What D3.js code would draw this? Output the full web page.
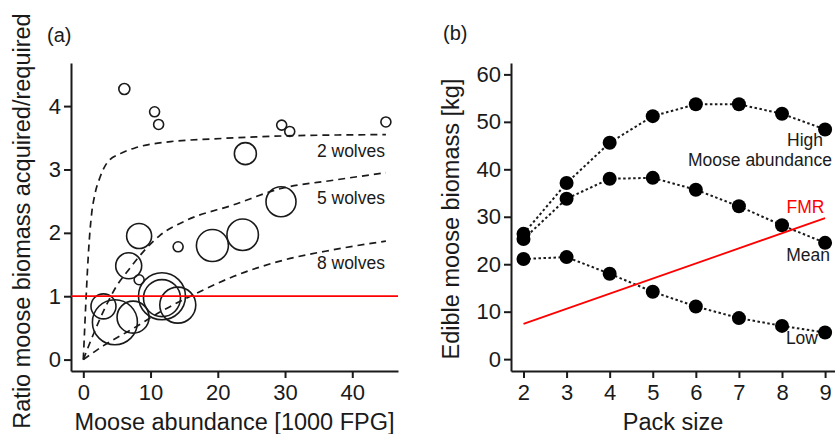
<!DOCTYPE html>
<html>
<head>
<meta charset="utf-8">
<script src="https://cdn.jsdelivr.net/npm/d3@7"></script>
<style>
body { margin: 0; background: #fff; }
text { font-family: "Liberation Sans", Arial, sans-serif; fill: #1a1a1a; }
</style>
</head>
<body>
<script>
// ---- panel (a) data ----
const mooseAbundance = [6.1, 10.6, 11.2, 29.5, 30.7, 45.0, 24.1, 29.4, 8.3, 14.1, 19.2, 23.7, 6.75, 8.3, 3.0, 4.7, 7.4, 11.7, 11.7, 14.05];
const biomassRatio   = [4.27, 3.91, 3.71, 3.70, 3.60, 3.75, 3.25, 2.49, 1.95, 1.78, 1.80, 1.97, 1.48, 1.26, 0.84, 0.59, 0.67, 1.00, 0.97, 0.86];
const wolvesInPack   = [2.2, 2, 2, 2, 2, 2, 4.4, 6, 5, 2, 6.4, 6.3, 5.2, 2, 5, 9, 6.4, 9.4, 7.4, 7.2];

const wolves2X = [0, 1, 1.25, 1.75, 2.5, 3.5, 5.5, 8, 13, 19, 30, 45];
const wolves2Y = [0, 2.04, 2.31, 2.62, 2.88, 3.10, 3.25, 3.35, 3.44, 3.48, 3.53, 3.55];
const wolves5X = [0, 1.5, 3.2, 5, 6.7, 8.9, 11.4, 15.4, 22.3, 29.4, 37.2, 45];
const wolves5Y = [0, 0.4, 0.81, 1.17, 1.41, 1.70, 1.96, 2.20, 2.44, 2.70, 2.83, 2.95];
const wolves8X = [0, 3, 7.4, 11.4, 16.9, 22.3, 29.8, 37, 45];
const wolves8Y = [0, 0.22, 0.49, 0.75, 1.05, 1.31, 1.57, 1.73, 1.87];
const curveLabels = ["2 wolves", "5 wolves", "8 wolves"];

const ticksAx = [0, 10, 20, 30, 40];
const ticksAy = [0, 1, 2, 3, 4];

// ---- panel (b) data ----
const packSizes   = [2, 3, 4, 5, 6, 7, 8, 9];
const highBiomass = [26.4, 37.1, 45.6, 51.2, 53.7, 53.7, 51.7, 48.4];
const meanBiomass = [25.3, 33.8, 38.0, 38.2, 35.7, 32.2, 28.2, 24.5];
const lowBiomass  = [21.1, 21.5, 18.0, 14.2, 11.1, 8.65, 7.0, 5.6];
const fmrPack     = [2, 9];
const fmrBiomass  = [7.45, 29.7];
const ticksBy = [0, 10, 20, 30, 40, 50, 60];

const ink = "#1a1a1a";

const svg = d3.select("body").append("svg")
    .attr("width", 835)
    .attr("height", 434);

function styleAxis(g) {
    g.select(".domain").attr("stroke", ink).attr("stroke-width", 2);
    g.selectAll(".tick line").attr("stroke", ink).attr("stroke-width", 2);
    g.selectAll(".tick text").style("font-size", "22px");
}

// ================= panel (a) =================
const xA = d3.scaleLinear().domain([-1.83, 46.8]).range([71, 398]);
const yA = d3.scaleLinear().domain([-0.18, 4.68]).range([371, 63]);
const rA = d3.scaleLinear().domain([0, 10]).range([0, 25]);

svg.append("g")
    .attr("transform", "translate(0,371)")
    .call(d3.axisBottom(xA).tickValues(ticksAx).tickFormat(d3.format("d"))
        .tickSize(7).tickSizeOuter(0).tickPadding(6))
    .call(styleAxis);

svg.append("g")
    .attr("transform", "translate(71,0)")
    .call(d3.axisLeft(yA).tickValues(ticksAy).tickFormat(d3.format("d"))
        .tickSize(7).tickSizeOuter(0).tickPadding(3))
    .call(styleAxis);

const lineA = d3.line()
    .x(d => xA(d[0]))
    .y(d => yA(d[1]))
    .curve(d3.curveMonotoneX);

[[wolves2X, wolves2Y], [wolves5X, wolves5Y], [wolves8X, wolves8Y]].forEach(([xs, ys]) => {
    svg.append("path")
        .datum(xs.map((x, i) => [x, ys[i]]))
        .attr("d", lineA)
        .attr("fill", "none")
        .attr("stroke", ink)
        .attr("stroke-width", 1.7)
        .attr("stroke-dasharray", "7,5");
});

svg.selectAll(".bubble")
    .data(mooseAbundance.map((x, i) => ({x: x, y: biomassRatio[i], n: wolvesInPack[i]})))
    .join("circle")
    .attr("class", "bubble")
    .attr("cx", d => xA(d.x))
    .attr("cy", d => yA(d.y))
    .attr("r", d => rA(d.n))
    .attr("fill", "none")
    .attr("stroke", ink)
    .attr("stroke-width", 1.6);

// required level
svg.append("line")
    .attr("x1", xA.range()[0]).attr("x2", xA.range()[1])
    .attr("y1", yA(1)).attr("y2", yA(1))
    .attr("stroke", "#ff0000")
    .attr("stroke-width", 1.8);

const curveLabelY = [157, 204, 269];
svg.selectAll(".curve-label")
    .data(curveLabels)
    .join("text")
    .attr("class", "curve-label")
    .attr("x", 385)
    .attr("y", (d, i) => curveLabelY[i])
    .attr("text-anchor", "end")
    .style("font-size", "17.5px")
    .text(d => d);

svg.append("text").attr("x", 47).attr("y", 42).style("font-size", "20px").text("(a)");

svg.append("text")
    .attr("x", (xA.range()[0] + xA.range()[1]) / 2)
    .attr("y", 430)
    .attr("text-anchor", "middle")
    .style("font-size", "23.5px")
    .text("Moose abundance [1000 FPG]");

svg.append("text")
    .attr("transform", "translate(30,221)rotate(-90)")
    .attr("text-anchor", "middle")
    .style("font-size", "23.5px")
    .text("Ratio moose biomass acquired/required");

// ================= panel (b) =================
const xB = d3.scaleLinear().domain([1.71, 9.23]).range([511, 835]);
const yB = d3.scaleLinear().domain([-2.5, 62.4]).range([371, 63]);

svg.append("g")
    .attr("transform", "translate(0,371)")
    .call(d3.axisBottom(xB).tickValues(packSizes).tickFormat(d3.format("d"))
        .tickSize(7).tickSizeOuter(0).tickPadding(6))
    .call(styleAxis);

svg.append("g")
    .attr("transform", "translate(511,0)")
    .call(d3.axisLeft(yB).tickValues(ticksBy).tickFormat(d3.format("d"))
        .tickSize(7).tickSizeOuter(0).tickPadding(3))
    .call(styleAxis);

const lineB = d3.line()
    .x((d, i) => xB(packSizes[i]))
    .y(d => yB(d));

[highBiomass, meanBiomass, lowBiomass].forEach(series => {
    svg.append("path")
        .datum(series)
        .attr("d", lineB)
        .attr("fill", "none")
        .attr("stroke", ink)
        .attr("stroke-width", 2)
        .attr("stroke-dasharray", "2.5,2.5");
});

// labels sit under the dots
const seriesLabels = [
    {t: "High", x: 823, y: 145.5, c: ink},
    {t: "Moose abundance", x: 832, y: 165.5, c: ink},
    {t: "FMR", x: 824.5, y: 213, c: "#ff0000"},
    {t: "Mean", x: 830, y: 260.5, c: ink},
    {t: "Low", x: 818, y: 344, c: ink}
];
svg.selectAll(".series-label")
    .data(seriesLabels)
    .join("text")
    .attr("class", "series-label")
    .attr("x", d => d.x)
    .attr("y", d => d.y)
    .attr("text-anchor", "end")
    .style("font-size", "17.5px")
    .style("fill", d => d.c)
    .text(d => d.t);

[highBiomass, meanBiomass, lowBiomass].forEach(series => {
    svg.append("g")
        .selectAll("circle")
        .data(series)
        .join("circle")
        .attr("cx", (d, i) => xB(packSizes[i]))
        .attr("cy", d => yB(d))
        .attr("r", 7)
        .attr("fill", "#000");
});

svg.append("line")
    .attr("x1", xB(fmrPack[0])).attr("y1", yB(fmrBiomass[0]))
    .attr("x2", xB(fmrPack[1])).attr("y2", yB(fmrBiomass[1]))
    .attr("stroke", "#ff0000")
    .attr("stroke-width", 1.8);

svg.append("text").attr("x", 443).attr("y", 40).style("font-size", "20px").text("(b)");

svg.append("text")
    .attr("x", (xB.range()[0] + xB.range()[1]) / 2)
    .attr("y", 430)
    .attr("text-anchor", "middle")
    .style("font-size", "23.5px")
    .text("Pack size");

svg.append("text")
    .attr("transform", "translate(459,219)rotate(-90)")
    .attr("text-anchor", "middle")
    .style("font-size", "23.5px")
    .text("Edible moose biomass [kg]");
</script>
</body>
</html>
